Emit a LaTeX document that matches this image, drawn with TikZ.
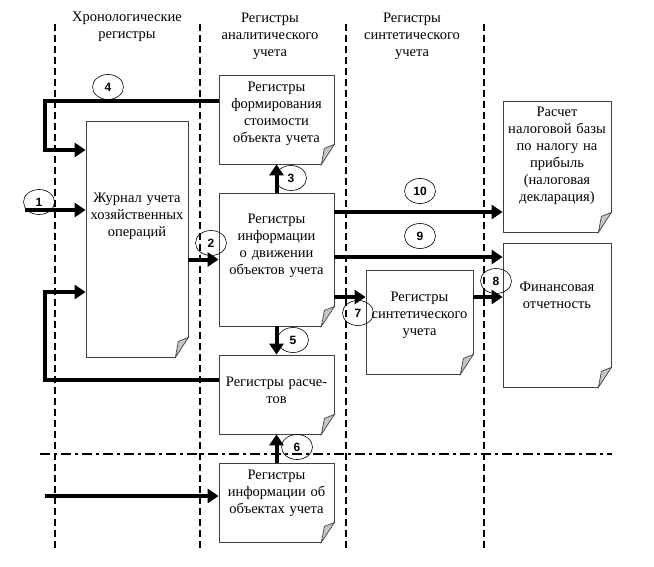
\documentclass[tikz,border=0pt]{standalone}
\usepackage{fontspec}
\setmainfont{Liberation Serif}
\setsansfont{Liberation Sans}
\usetikzlibrary{arrows.meta,calc,shapes.geometric,positioning}

\tikzset{
	regbox/.style={rectangle,draw=black!75,line width=0.8pt,fill=white,
		inner xsep=1pt,inner ysep=0pt,align=center,
		font=\fontsize{14.5}{17}\selectfont},
	head/.style={align=center,font=\fontsize{14.5}{17}\selectfont},
	num/.style={ellipse,draw,line width=0.6pt,minimum width=31pt,
		minimum height=25pt,inner sep=0pt,font=\sffamily\bfseries\fontsize{12}{12}\selectfont},
	flow/.style={line width=4pt,-{Triangle[length=11pt,width=14pt]}},
	vline/.style={line width=1.7pt,dash pattern=on 7pt off 4pt},
	hline/.style={line width=1.5pt,dash pattern=on 10pt off 4pt on 3pt off 4pt}
}

% curled corner at bottom right of a register box
\newcommand{\foldcorner}[1]{%
	\fill[white] ($(#1.south east)+(1,1)$) -- ($(#1.south east)+(-13,1)$)
		-- ($(#1.south east)+(1,-21)$) -- cycle;
	\draw[line width=0.7pt,draw=black!75,fill=gray!45] ($(#1.south east)+(-13,0)$)
		-- ($(#1.south east)+(-10,-16)$) -- ($(#1.south east)+(0,-20)$) -- cycle;}

\begin{document}
\begin{tikzpicture}[x=1pt,y=-1pt]
	\useasboundingbox (0,0) rectangle (654,566);

	\foreach \x in {55,200,346,484}
		\draw[vline] (\x,24) -- (\x,550);
	\draw[hline] (40,454) -- (612,454);

	\node[head] (chrono) at (127,27) {Хронологические\\регистры};
	\node[head] (analit) at (270,36) {Регистры\\аналитического\\учета};
	\node[head] (sintH) at (412,36) {Регистры\\синтетического\\учета};

	\begin{scope}[every node/.style={regbox}]
		\node[text width=100pt,text height=81pt,text depth=155pt] (zhurnal) at (137,239)
			{Журнал учета\\хозяйственных\\операций};
		\node[text width=113pt,text height=16pt,text depth=73pt] (formir) at (276.5,119.5)
			{Регистры\\формирования\\стоимости\\объекта учета};
		\node[text width=113pt,text height=30pt,text depth=103pt] (dvizh) at (276.5,259.5)
			{Регистры\\информации\\о движении\\объектов учета};
		\node[text width=113pt,text height=31pt,text depth=48pt] (raschet) at (276.5,394.5)
			{Регистры расче-\\тов};
		\node[text width=113pt,text height=16pt,text depth=63pt] (obekty) at (276.5,502.5)
			{Регистры\\информации об\\объектах учета};
		\node[text width=105pt,text height=31pt,text depth=73pt] (sintet) at (419.5,322)
			{Регистры\\синтетического\\учета};
		\node[text width=106pt,text height=15pt,text depth=116pt] (nalog) at (557,166.5)
			{Расчет\\налоговой базы\\по налогу на\\прибыль\\(налоговая\\декларация)};
		\node[text width=106pt,text height=48pt,text depth=96pt] (otchet) at (557,315)
			{Финансовая\\отчетность};
	\end{scope}
	\foreach \b in {zhurnal,formir,dvizh,raschet,obekty,sintet,nalog,otchet}
		\foldcorner{\b};

	% turning points and levels of the arrows
	\coordinate (in1) at (25,210);
	\coordinate (in2) at (45,496);
	\coordinate (k4a) at (45,101);
	\coordinate (k4b) at (45,150);
	\coordinate (kra) at (45,380);
	\coordinate (krb) at (45,292);
	\coordinate (y10) at (0,212);
	\coordinate (y9) at (0,257);
	\coordinate (y7) at (0,297);

	\begin{scope}
		\draw[flow] (in1) -- (zhurnal.west |- in1);
		\draw[flow] (zhurnal.east |- dvizh.west) -- (dvizh.west);
		\draw[flow] (dvizh.north) -- (formir.south);
		\draw[flow] (formir.west |- k4a) -- (k4a) -- (k4b) -- (zhurnal.west |- k4b);
		\draw[flow] (dvizh.south) -- (raschet.north);
		\draw[flow] (obekty.north) -- (raschet.south);
		\draw[flow] (raschet.west |- kra) -- (kra) -- (krb) -- (zhurnal.west |- krb);
		\draw[flow] (in2) -- (obekty.west |- in2);
		\draw[flow] (dvizh.east |- y7) -- (sintet.west |- y7);
		\draw[flow] (sintet.east |- y7) -- (otchet.west |- y7);
		\draw[flow] (dvizh.east |- y9) -- (otchet.west |- y9);
		\draw[flow] (dvizh.east |- y10) -- (nalog.west |- y10);
	\end{scope}

	\begin{scope}[every node/.style={num}]
		\node (n1) at (39,202) {1};
		\node (n2) at (211,243) {2};
		\node (n3) at (291,178) {3};
		\node (n4) at (108,87) {4};
		\node (n5) at (293,340) {5};
		\node (n6) at (297,447) {6};
		\node (n7) at (358,313) {7};
		\node (n8) at (496,281) {8};
		\node (n9) at (420,236) {9};
		\node (n10) at (420,191) {10};
	\end{scope}
\end{tikzpicture}
\end{document}
